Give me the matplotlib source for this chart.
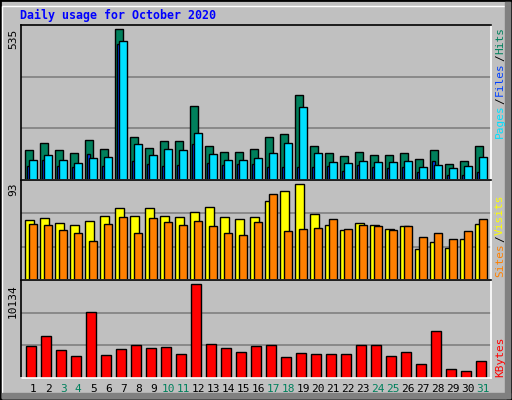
import matplotlib
matplotlib.use("Agg")
import matplotlib.pyplot as plt
from matplotlib.patches import Rectangle

days = list(range(1, 32))
weekend = [3, 4, 10, 11, 17, 18, 24, 25, 31]

hits = [105, 130, 105, 94, 140, 109, 535, 151, 115, 137, 137, 263, 122, 100, 100, 111,
        151, 162, 301, 119, 94, 86, 100, 90, 90, 94, 75, 108, 57, 68, 119]
files = [71, 89, 71, 60, 78, 82, 494, 126, 89, 111, 107, 166, 93, 71, 71, 78,
         96, 132, 258, 96, 64, 60, 67, 64, 64, 67, 46, 53, 42, 49, 82]
pages = [50, 71, 50, 46, 93, 50, 483, 68, 57, 50, 53, 127, 60, 53, 57, 57,
         46, 46, 46, 46, 50, 32, 53, 46, 42, 46, 28, 68, 17, 17, 28]
visits = [57.7, 59.8, 54.7, 52.7, 56.7, 61.8, 69.8, 61.8, 69.8, 61.8, 60.8, 65.8, 70.8, 60.8, 58.7, 60.8,
          75.9, 85.9, 93, 63.8, 52.7, 48.7, 54.7, 52.7, 49.7, 51.7, 29.5, 36.6, 30.5, 39.6, 53.7]
sites = [53.7, 52.7, 48.7, 45.7, 37.6, 53.7, 60.8, 45.7, 59.8, 55.7, 52.7, 56.7, 51.7, 45.7, 43.6, 55.7,
         82.9, 47.7, 49.7, 50.7, 58.7, 49.7, 52.7, 51.7, 48.7, 51.7, 41.6, 45.7, 39.6, 47.7, 58.7]
kbytes = [3477, 4476, 3033, 2367, 7139, 2478, 3144, 3588, 3255, 3366, 2589, 10134, 3699, 3255, 2811, 3477,
          3588, 2256, 2700, 2589, 2589, 2589, 3588, 3588, 2367, 2811, 1480, 5031, 925, 703, 1813]

BG = "#C0C0C0"
W, H = 512, 400
fig = plt.figure(figsize=(5.12, 4.0), dpi=100, facecolor=BG)
mono = "DejaVu Sans Mono"

def px_axes(x0, y0, x1, y1):
    return fig.add_axes([x0 / W, 1 - y1 / H, (x1 - x0) / W, (y1 - y0) / H])

# cadre extérieur en relief
fig.patches.append(Rectangle((0, 0), 1, 1, transform=fig.transFigure, fill=False,
                             edgecolor="black", linewidth=2))
fig.patches.append(Rectangle((2 / W, 2 / H), (W - 8) / W, (H - 8) / H, transform=fig.transFigure,
                             fill=False, edgecolor="white", linewidth=1))
fig.patches.append(Rectangle(((W - 7) / W, 2 / H), 5 / W, (H - 4) / H, transform=fig.transFigure,
                             color="#808080"))
fig.patches.append(Rectangle((2 / W, 2 / H), (W - 4) / W, 5 / H, transform=fig.transFigure,
                             color="#808080"))

x_left, x_right = 20.7, 491
panels = [(25, 180), (180, 280), (280, 378)]
tops = [549, 96.6, 10541]
axes = []
for (y0, y1), top in zip(panels, tops):
    ax = px_axes(x_left, y0, x_right, y1)
    ax.set_facecolor(BG)
    ax.set_xlim(0.16, 31.51)
    ax.set_ylim(0, top)
    ax.set_xticks([])
    ax.set_yticks([])
    for s in ax.spines.values():
        s.set_color("black")
        s.set_linewidth(1.2)
    ax.spines["bottom"].set_color("white")
    ax.spines["right"].set_color("white")
    for f in (1 / 3, 2 / 3):
        ax.axhline(top * f, color="#808080", linewidth=1.2, zorder=0)
    axes.append(ax)

kw = dict(align="edge", edgecolor="black", linewidth=1)
ax1, ax2, ax3 = axes
ax1.bar([x - 0.533 for x in days], hits, width=0.49, color="#00805C", **kw)
ax1.bar([x - 0.40 for x in days], pages, width=0.16, color="#0040FF", **kw)
ax1.bar([x - 0.267 for x in days], files, width=0.49, color="#00E0FF", **kw)
ax2.bar([x - 0.533 for x in days], visits, width=0.56, color="#FFFF00", **kw)
ax2.bar([x - 0.287 for x in days], sites, width=0.51, color="#FF8000", **kw)
ax3.bar([x - 0.467 for x in days], kbytes, width=0.667, color="#FF0000", **kw)

fig.text(20 / W, 1 - 15 / H, "Daily usage for October 2020", color="#0000FF", family=mono,
         fontweight="bold", fontsize=8.4, va="center", ha="left")

for y, label in [(29, "535"), (182, "93"), (284, "10134")]:
    fig.text(13 / W, 1 - y / H, label, rotation=90, family=mono, fontsize=8, ha="center", va="top")

for day in days:
    fig.text((33.3 + (day - 1) * 15) / W, 1 - 389 / H, str(day), family=mono, fontsize=8,
             color="#00805C" if day in weekend else "black", ha="center", va="center")

def right_label(parts, y_bottom):
    y = y_bottom
    for txt, col in parts:
        fig.text(500 / W, 1 - y / H, txt, rotation=90, family=mono, fontsize=8,
                 color=col, ha="center", va="bottom")
        y -= len(txt) * 6.7 + 1

right_label([("Pages", "#00E0FF"), ("/", "black"), ("Files", "#0040FF"),
             ("/", "black"), ("Hits", "#00805C")], 138)
right_label([("Sites", "#FF8000"), ("/", "black"), ("Visits", "#FFFF00")], 277)
right_label([("KBytes", "#FF0000")], 377)

fig.savefig("out.png", dpi=100, facecolor=BG)
